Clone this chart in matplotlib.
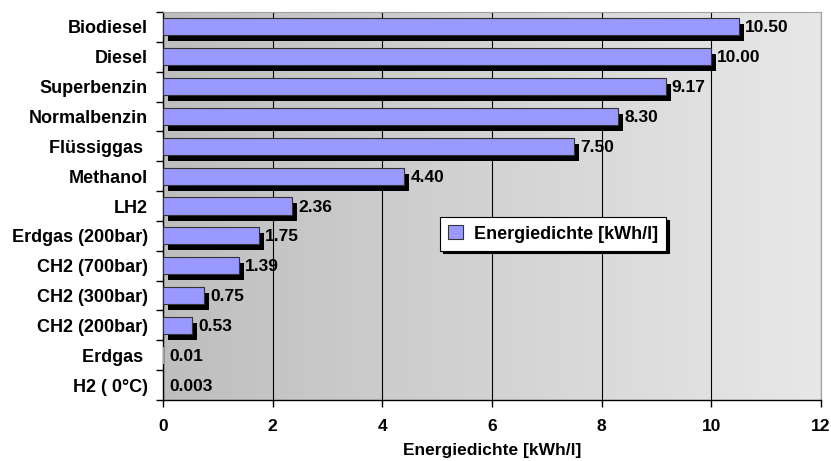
import matplotlib
matplotlib.use("Agg")
import matplotlib.pyplot as plt
import matplotlib.transforms as mtransforms
from matplotlib.patches import Patch
from matplotlib.colors import LinearSegmentedColormap
import numpy as np

# energy density per fuel, top to bottom
fuels = ["Biodiesel", "Diesel", "Superbenzin", "Normalbenzin", "Flüssiggas ",
         "Methanol", "LH2", "Erdgas (200bar)", "CH2 (700bar)", "CH2 (300bar)",
         "CH2 (200bar)", "Erdgas ", "H2 ( 0°C)"]
density = [10.50, 10.00, 9.17, 8.30, 7.50, 4.40, 2.36, 1.75, 1.39, 0.75,
           0.53, 0.01, 0.003]
series_name = "Energiedichte [kWh/l]"
x_ticks = [0, 2, 4, 6, 8, 10, 12]

plt.rcParams['font.family'] = ['Liberation Sans', 'DejaVu Sans']
plt.rcParams['font.weight'] = 'bold'

fig = plt.figure(figsize=(8.31, 4.61), dpi=100)
ax = fig.add_axes([163/831, 1 - 400/461, (821 - 163)/831, (400 - 12)/461])

n = len(fuels)
ypos = np.arange(n)

# grey gradient behind the plot area
bg = LinearSegmentedColormap.from_list('bg', ['#bebebe', '#e8e8e8'])
grad = np.linspace(0, 1, 256).reshape(1, -1)
ax.imshow(grad, extent=(0, 12, n - 0.5, -0.5), aspect='auto', cmap=bg,
          zorder=0, interpolation='bilinear')

bar_color = '#9999ff'
# bars thinner than a pixel get neither outline nor drop shadow
visible = [v > 0.05 for v in density]
edges = ['#333333' if vis else 'none' for vis in visible]
shades = ['black' if vis else 'none' for vis in visible]
shadow = mtransforms.ScaledTranslation(5/100, -6/100, fig.dpi_scale_trans)
ax.barh(ypos, density, height=0.57, color=shades, zorder=2,
        transform=ax.transData + shadow)
ax.barh(ypos, density, height=0.57, color=bar_color, edgecolor=edges,
        linewidth=0.8, zorder=3)

label_off = mtransforms.ScaledTranslation(6/100, -1/100, fig.dpi_scale_trans)
for y, v in zip(ypos, density):
    txt = f"{v:.2f}" if v >= 0.01 else f"{v:.3f}"
    ax.text(v, y, txt, ha='left', va='center', fontsize=12.5, fontweight='bold',
            transform=ax.transData + label_off, zorder=4)

ax.set_xlim(0, 12)
ax.set_ylim(n - 0.5, -0.5)
ax.set_xticks(x_ticks)
ax.set_xticklabels([str(t) for t in x_ticks], fontsize=12.5, fontweight='bold')
ax.set_yticks(ypos)
ax.set_yticklabels(fuels, fontsize=13, fontweight='bold')
ax.set_yticks(np.arange(n + 1) - 0.5, minor=True)
ax.tick_params(axis='y', which='major', length=0, pad=11)
ax.tick_params(axis='y', which='minor', length=5, direction='out', width=1)
ax.tick_params(axis='x', length=5, direction='out', width=1, pad=9)

ax.set_axisbelow(True)
ax.grid(axis='x', color='black', linewidth=0.8, zorder=1)

for side in ('top', 'right'):
    ax.spines[side].set_color('#a0a0a0')
for side in ('left', 'bottom'):
    ax.spines[side].set_color('black')
    ax.spines[side].set_linewidth(1)

ax.set_xlabel(series_name, fontsize=12.5, fontweight='bold', labelpad=6.5)

handle = Patch(facecolor=bar_color, edgecolor='#333333', linewidth=0.8)
leg = ax.legend([handle], [series_name], loc='center',
                bbox_to_anchor=((553 - 163)/658, (400 - 234)/388),
                frameon=True, fancybox=False, edgecolor='black',
                shadow={'color': 'black', 'alpha': 1},
                handlelength=0.8, handleheight=0.8, handletextpad=0.6,
                borderpad=0.45, prop={'size': 13, 'weight': 'bold'})
leg.get_frame().set_linewidth(0.8)
leg.set_zorder(5)

fig.savefig("out.png", dpi=100)
